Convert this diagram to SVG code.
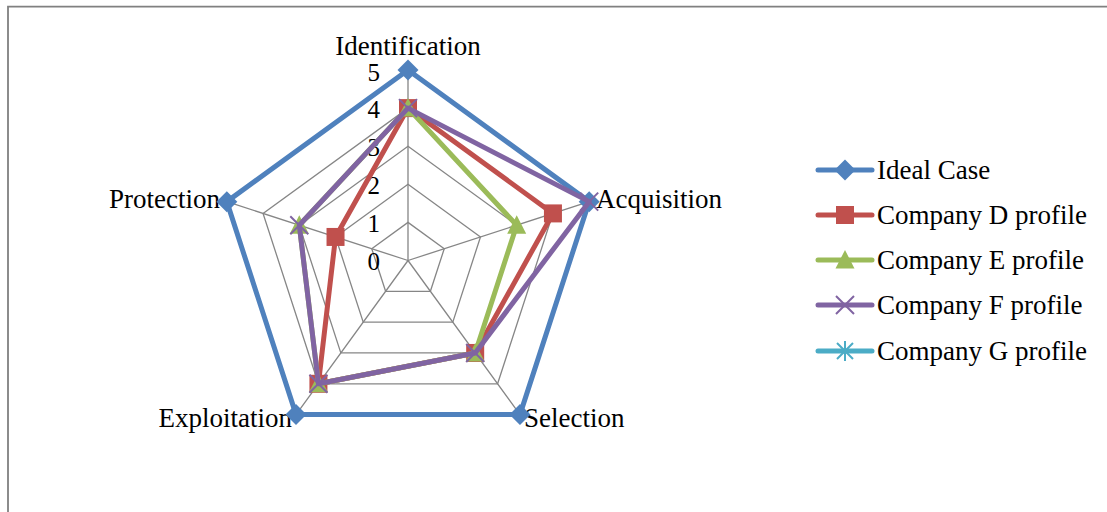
<svg xmlns="http://www.w3.org/2000/svg" xmlns:xlink="http://www.w3.org/1999/xlink" width="1107" height="512" viewBox="0 0 1107 512">
<style>
text{font-family:"Liberation Serif","Times New Roman",serif;fill:#000;font-size:27px}
.num{font-size:25px;text-anchor:end}
.grid{fill:none;stroke:#868686;stroke-width:1.3}
.ser{fill:none;stroke-width:5;stroke-linejoin:round}
.leg{stroke-width:5;stroke-linecap:round}
.frame{stroke:#808080;stroke-width:1.8;fill:none}
</style>
<defs>
<path id="dia" d="M0,-10.5 L10.5,0 L0,10.5 L-10.5,0Z" fill="#4F81BD"/>
<rect id="sq" x="-9" y="-9" width="18" height="18" fill="#C0504D"/>
<path id="tri" d="M0,-10 L9.5,8.5 L-9.5,8.5Z" fill="#9BBB59"/>
<path id="xx" d="M-9,-9 L9,9 M9,-9 L-9,9" stroke="#8064A2" stroke-width="2" fill="none"/>
<path id="st" d="M-8,-8 L8,8 M8,-8 L-8,8 M0,-10 V10" stroke="#4BACC6" stroke-width="2" fill="none"/>
</defs>
<rect width="1107" height="512" fill="#fff"/>
<path class="frame" d="M8,512 V6.6 H1107"/>

<g id="grid">
<polygon class="grid" points="408,222.4 444.24,248.73 430.39,291.32 385.61,291.32 371.76,248.73"/>
<polygon class="grid" points="408,184.3 480.47,236.95 452.79,322.15 363.21,322.15 335.53,236.95"/>
<polygon class="grid" points="408,146.2 516.71,225.18 475.18,352.97 340.82,352.97 299.29,225.18"/>
<polygon class="grid" points="408,108.1 552.94,213.41 497.58,383.79 318.42,383.79 263.06,213.41"/>
<polygon class="grid" points="408,70 589.18,201.63 519.97,414.62 296.03,414.62 226.82,201.63"/>
<path class="grid" d="M408,260.5 L408,70 M408,260.5 L589.18,201.63 M408,260.5 L519.97,414.62 M408,260.5 L296.03,414.62 M408,260.5 L226.82,201.63"/>
</g>

<g id="axis-values">
<text class="num" x="380" y="81">5</text>
<text class="num" x="380" y="118">4</text>
<text class="num" x="380" y="156">3</text>
<text class="num" x="380" y="194">2</text>
<text class="num" x="380" y="232">1</text>
<text class="num" x="380" y="270">0</text>
</g>

<g id="axis-labels">
<text x="408" y="55" text-anchor="middle">Identification</text>
<text x="596" y="208">Acquisition</text>
<text x="524" y="427">Selection</text>
<text x="292" y="427" text-anchor="end">Exploitation</text>
<text x="220" y="208" text-anchor="end">Protection</text>
</g>

<g id="series-ideal">
<polygon class="ser" stroke="#4F81BD" points="408,70 589.18,201.63 519.97,414.62 296.03,414.62 226.82,201.63"/>
<use xlink:href="#dia" x="408" y="70"/>
<use xlink:href="#dia" x="589.18" y="201.63"/>
<use xlink:href="#dia" x="519.97" y="414.62"/>
<use xlink:href="#dia" x="296.03" y="414.62"/>
<use xlink:href="#dia" x="226.82" y="201.63"/>
</g>

<g id="series-d">
<polygon class="ser" stroke="#C0504D" points="408,108.1 552.94,213.41 475.18,352.97 318.42,383.79 335.53,236.95"/>
<use xlink:href="#sq" x="408" y="108.1"/>
<use xlink:href="#sq" x="552.94" y="213.41"/>
<use xlink:href="#sq" x="475.18" y="352.97"/>
<use xlink:href="#sq" x="318.42" y="383.79"/>
<use xlink:href="#sq" x="335.53" y="236.95"/>
</g>

<g id="series-e">
<polygon class="ser" stroke="#9BBB59" points="408,108.1 516.71,225.18 475.18,352.97 318.42,383.79 299.29,225.18"/>
<use xlink:href="#tri" x="408" y="108.1"/>
<use xlink:href="#tri" x="516.71" y="225.18"/>
<use xlink:href="#tri" x="475.18" y="352.97"/>
<use xlink:href="#tri" x="318.42" y="383.79"/>
<use xlink:href="#tri" x="299.29" y="225.18"/>
</g>

<g id="series-f">
<polygon class="ser" stroke="#8064A2" points="408,108.1 589.18,201.63 475.18,352.97 318.42,383.79 299.29,225.18"/>
<use xlink:href="#xx" x="408" y="108.1"/>
<use xlink:href="#xx" x="589.18" y="201.63"/>
<use xlink:href="#xx" x="475.18" y="352.97"/>
<use xlink:href="#xx" x="318.42" y="383.79"/>
<use xlink:href="#xx" x="299.29" y="225.18"/>
</g>

<g id="legend">
<g id="legend-ideal">
<line class="leg" x1="818" y1="170" x2="872" y2="170" stroke="#4F81BD"/>
<use xlink:href="#dia" x="845" y="170"/>
<text x="877" y="179">Ideal Case</text>
</g>
<g id="legend-d">
<line class="leg" x1="818" y1="215" x2="872" y2="215" stroke="#C0504D"/>
<use xlink:href="#sq" x="845" y="215"/>
<text x="877" y="224">Company D profile</text>
</g>
<g id="legend-e">
<line class="leg" x1="818" y1="260" x2="872" y2="260" stroke="#9BBB59"/>
<use xlink:href="#tri" x="845" y="260"/>
<text x="877" y="269">Company E profile</text>
</g>
<g id="legend-f">
<line class="leg" x1="818" y1="305" x2="872" y2="305" stroke="#8064A2"/>
<use xlink:href="#xx" x="845" y="305"/>
<text x="877" y="314">Company F profile</text>
</g>
<g id="legend-g">
<line class="leg" x1="818" y1="351" x2="872" y2="351" stroke="#4BACC6"/>
<use xlink:href="#st" x="845" y="351"/>
<text x="877" y="360">Company G profile</text>
</g>
</g>
</svg>
